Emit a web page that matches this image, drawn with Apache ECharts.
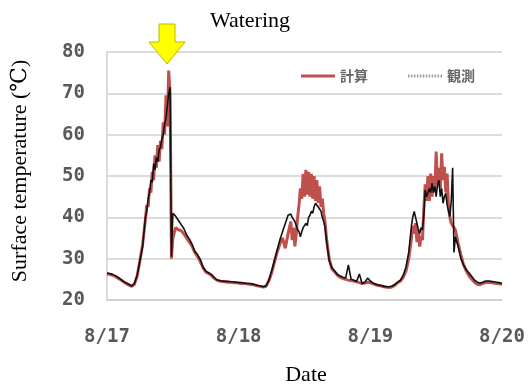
<!DOCTYPE html>
<html>
<head>
<meta charset="utf-8">
<script src="https://cdn.jsdelivr.net/npm/echarts@6/dist/echarts.min.js"></script>
<style>
html,body{margin:0;padding:0;background:#fff;}
#chart{width:530px;height:392px;}
</style>
</head>
<body>
<div id="chart"></div>
<script>
// Time in hours from 8/17 00:00
var hours = [
  0,0.5,1,1.5,2,2.5,3,3.5,4,4.5,5,5.5,6,6.5,
  7,7.25,7.5,7.75,8,8.25,8.5,8.75,9,9.25,9.5,9.75,10,10.25,10.5,10.75,11,11.25,11.5,11.75,
  12,12.5,13,13.5,14,14.5,15,15.5,16,16.5,17,17.5,18,18.5,19,19.5,20,20.5,21,21.5,22,22.5,23,23.5,
  24,24.5,25,25.5,26,26.5,27,27.5,28,28.5,29,29.5,30,30.5,31,31.5,32,32.5,33,
  33.5,33.75,34,34.25,34.5,34.75,35,35.25,35.5,35.75,36,36.25,36.5,36.75,37,37.25,37.5,37.75,
  38,38.25,38.5,38.75,39,39.25,39.5,39.75,
  40,40.5,41,41.5,42,42.5,43,43.5,44,44.5,45,45.5,46,46.5,47,47.5,48,48.5,49,49.5,50,50.5,51,51.5,
  52,52.5,53,53.5,54,54.5,55,
  55.5,55.75,56,56.25,56.5,56.75,57,57.25,57.5,57.75,58,58.25,58.5,58.75,59,59.25,59.5,59.75,
  60,60.25,60.5,60.75,61,61.25,61.5,61.75,62,62.25,62.5,62.75,63,63.25,63.5,
  64,64.5,65,65.5,66,66.5,67,67.5,68,68.5,69,69.5,70,70.5,71,71.5,72];

// 観測 (observed)
var obs = [
  26.5,26.4,26.2,25.9,25.5,25.0,24.5,24.1,23.8,23.4,24.0,26.0,29.5,33.0,
  40.0,41.5,44.5,46.0,49.0,48.5,53.0,51.5,54.5,53.5,56.3,57.0,59.0,60.0,62.5,64.0,67.0,70.0,71.5,30.5,
  41.0,40.3,39.3,38.3,37.3,35.8,34.8,33.5,31.8,31.0,29.8,28.0,27.0,26.6,26.2,25.5,24.9,24.7,24.6,24.5,24.5,24.4,24.4,24.3,
  24.2,24.2,24.1,24.0,24.0,23.9,23.7,23.5,23.4,23.2,23.5,24.8,27.0,29.5,32.0,34.5,36.5,38.5,40.5,
  40.8,40.0,39.8,39.0,39.4,37.0,36.5,35.3,36.5,37.5,37.7,38.5,38.0,40.0,40.5,41.5,41.0,42.5,
  43.4,43.0,42.5,42.0,41.5,40.0,39.0,37.5,
  34.5,29.5,27.8,27.0,26.2,25.8,25.5,25.3,28.5,25.0,24.8,24.5,26.3,24.0,24.3,25.3,24.6,24.1,23.8,23.6,23.5,23.3,23.2,23.2,
  23.4,23.8,24.3,24.8,26.0,28.0,31.5,
  38.0,40.2,41.4,40.0,38.5,37.0,36.1,37.5,37.0,40.5,46.6,45.0,44.6,47.0,46.0,48.2,46.0,47.5,
  45.0,48.0,49.0,45.0,47.0,43.4,45.0,45.8,43.0,41.5,40.2,44.0,52.0,31.5,35.3,
  33.0,30.0,28.5,27.3,26.5,25.7,24.8,24.3,24.1,24.3,24.6,24.6,24.5,24.4,24.3,24.2,24.0];

// 計算 (calculated)
var calc = [
  26.3,26.2,26.0,25.7,25.3,24.9,24.4,24.0,23.6,23.3,23.8,25.8,29.5,33.5,
  39.5,43.0,42.5,47.0,46.0,51.0,49.0,55.0,52.0,57.5,53.5,58.5,56.5,63.0,60.0,69.5,62.0,75.5,70.0,30.0,
  35.0,37.5,37.0,36.8,36.0,35.0,34.0,33.0,31.5,30.5,29.3,27.8,26.8,26.4,26.0,25.3,24.8,24.6,24.5,24.4,24.3,24.3,24.2,24.2,
  24.1,24.0,24.0,23.9,23.8,23.7,23.6,23.4,23.3,23.1,23.3,24.6,26.5,29.0,31.5,33.5,35.0,32.5,36.0,
  39.0,34.5,37.5,33.0,36.0,40.0,43.0,47.0,44.5,50.5,45.0,51.5,45.5,51.0,45.0,50.5,44.5,50.0,
  44.0,49.0,43.5,47.5,42.5,44.5,41.0,39.0,
  35.0,30.0,27.5,26.8,26.0,25.5,25.2,25.0,24.8,24.7,24.6,24.4,24.2,24.0,24.1,24.3,24.2,23.9,23.7,23.5,23.4,23.2,23.1,23.0,
  23.2,23.6,24.2,24.6,25.5,27.0,30.0,
  35.0,38.0,36.0,38.6,34.0,37.0,32.9,35.5,34.5,42.0,48.0,44.0,50.0,44.0,50.6,45.0,50.0,46.5,
  55.9,48.0,52.0,47.0,55.5,49.0,52.2,46.0,50.6,42.6,40.0,38.6,38.0,37.5,37.0,
  33.7,31.0,28.5,27.0,25.8,25.0,24.3,23.8,23.7,24.0,24.2,24.3,24.2,24.1,24.0,23.9,23.8];

var xTickHours = [0, 24, 48, 72];
var xTickLabels = ['8/17', '8/18', '8/19', '8/20'];
var seriesNames = ['計算', '観測'];

function pairs(vals){ return hours.map(function(h,i){ return [h, vals[i]]; }); }

// legend icon shapes (solid bar / dotted bar)
var solidIcon = 'path://M0,0h34v3h-34z';
var dottedIcon = 'path://';
for (var d = 0; d < 34; d += 3) { dottedIcon += 'M' + d + ',0h1.5v3h-1.5z'; }

var chart = echarts.init(document.getElementById('chart'), null, {renderer:'canvas'});
var serif = '"Liberation Serif","DejaVu Serif",serif';
var mono = '"DejaVu Sans Mono",monospace';

chart.setOption({
  animation:false,
  backgroundColor:'#fff',
  grid:{left:107, right:28, top:52, bottom:92, containLabel:false},
  legend:{
    left:296, top:64, itemWidth:34, itemHeight:12, itemGap:40, symbolKeepAspect:true,
    textStyle:{fontFamily:'"Noto Sans CJK JP",sans-serif', fontSize:14, fontWeight:'bold', color:'#666'},
    data:[
      {name:seriesNames[0], icon:solidIcon, itemStyle:{color:'#c0504d'}},
      {name:seriesNames[1], icon:dottedIcon, itemStyle:{color:'#999'}}
    ]
  },
  xAxis:{
    type:'value', min:0, max:72, interval:24,
    axisLine:{show:true, lineStyle:{color:'#cfcfcf', width:1.5}},
    axisTick:{show:false},
    splitLine:{show:false},
    axisLabel:{
      margin:28, fontFamily:mono, fontSize:19, fontWeight:'bold', color:'#595959',
      formatter:function(v){ var k = xTickHours.indexOf(v); return k>=0 ? xTickLabels[k] : ''; }
    }
  },
  yAxis:{
    type:'value', min:20, max:80, interval:10,
    axisLine:{show:true, lineStyle:{color:'#cfcfcf', width:1.5}},
    axisTick:{show:false},
    splitLine:{show:true, lineStyle:{color:'#cfcfcf', width:1.5}},
    axisLabel:{margin:22, fontFamily:mono, fontSize:19, fontWeight:'bold', color:'#595959'}
  },
  series:[
    {name:seriesNames[0], type:'line', data:pairs(calc), showSymbol:false, symbol:'none',
     lineStyle:{color:'#c0504d', width:3}, itemStyle:{color:'#c0504d'}, z:2},
    {name:seriesNames[1], type:'line', data:pairs(obs), showSymbol:false, symbol:'none',
     lineStyle:{color:'#111', width:1.6}, itemStyle:{color:'#111'}, z:3}
  ],
  graphic:[
    {type:'polygon', z:10, shape:{points:[[159,24],[175,24],[175,42],[185,42],[167,64],[149,42],[159,42]]},
     style:{fill:'#ffff00', stroke:'#b8b800', lineWidth:1}},
    {type:'text', z:10, x:250, y:21, style:{text:'Watering', textAlign:'center', textVerticalAlign:'middle', font:'22px '+serif, fill:'#000'}},
    {type:'text', z:10, x:306, y:375, style:{text:'Date', textAlign:'center', textVerticalAlign:'middle', font:'22px '+serif, fill:'#000'}},
    {type:'text', z:10, rotation:Math.PI/2, x:20, y:171, style:{text:'Surface temperature (℃)', textAlign:'center', textVerticalAlign:'middle', font:'22px '+serif, fill:'#000'}}
  ]
});
</script>
</body>
</html>
